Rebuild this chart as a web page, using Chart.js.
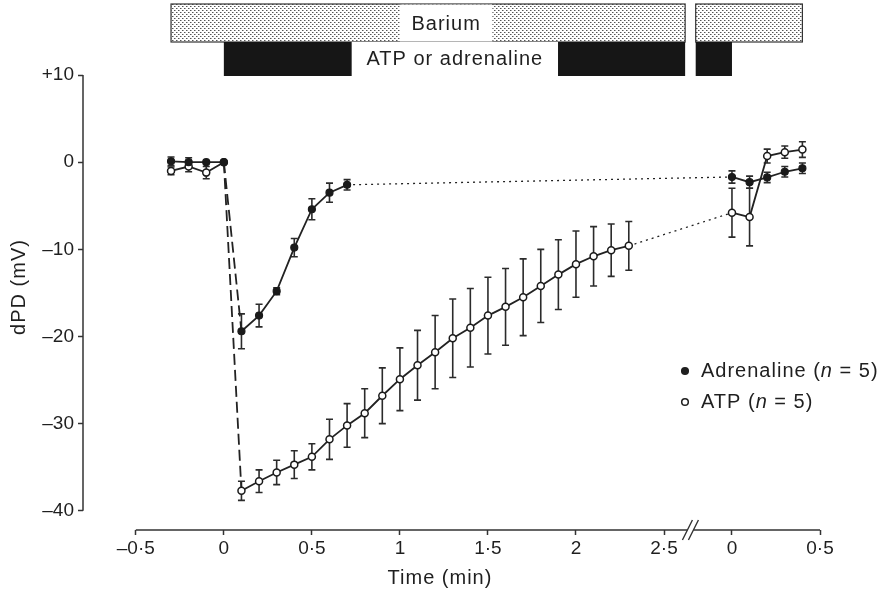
<!DOCTYPE html>
<html>
<head>
<meta charset="utf-8">
<title>dPD response to ATP and adrenaline</title>
<script src="https://cdn.jsdelivr.net/npm/chart.js@4.4.1/dist/chart.umd.min.js"></script>
<style>
  html, body { margin: 0; padding: 0; background: #fff; }
  #chart { display: block; }
</style>
</head>
<body>
<canvas id="chart" width="887" height="590"></canvas>
<script>
// Adrenaline: baseline, exposure (min)
const adrTimes = [-0.3, -0.2, -0.1, 0, 0.1, 0.2, 0.3, 0.4, 0.5, 0.6, 0.7];
const adrMean = [0.1, 0, 0, 0, -19.4, -17.6, -14.8, -9.8, -5.4, -3.5, -2.6];
const adrSem = [0.5, 0.5, 0, 0, 2.0, 1.3, 0.4, 1.05, 1.2, 1.1, 0.6];
// Adrenaline: after the break
const adrLateTimes = [0, 0.1, 0.2, 0.3, 0.4];
const adrLateMean = [-1.7, -2.3, -1.75, -1.1, -0.7];
const adrLateSem = [0.7, 0.7, 0.6, 0.6, 0.6];

// ATP: baseline, exposure (min)
const atpTimes = [-0.3, -0.2, -0.1, 0, 0.1, 0.2, 0.3, 0.4, 0.5, 0.6, 0.7, 0.8, 0.9, 1.0,
  1.1, 1.2, 1.3, 1.4, 1.5, 1.6, 1.7, 1.8, 1.9, 2.0, 2.1, 2.2, 2.3];
const atpMean = [-1.0, -0.5, -1.2, 0, -37.7, -36.6, -35.6, -34.7, -33.8, -31.8, -30.2, -28.8,
  -26.8, -24.9, -23.3, -21.8, -20.2, -19.0, -17.6, -16.6, -15.5, -14.2, -12.9, -11.7, -10.8,
  -10.1, -9.6];
const atpSem = [0.45, 0.6, 0.7, 0, 1.1, 1.3, 1.4, 1.6, 1.5, 2.3, 2.5, 2.8, 3.2, 3.6, 4.0, 4.2,
  4.5, 4.5, 4.4, 4.4, 4.4, 4.2, 4.0, 3.8, 3.4, 3.0, 2.8];
// ATP: after the break
const atpLateTimes = [0, 0.1, 0.2, 0.3, 0.4];
const atpLateMean = [-5.8, -6.3, 0.7, 1.15, 1.45];
const atpLateSem = [2.8, 3.3, 0.8, 0.7, 0.9];

const seriesNames = ["Adrenaline", "ATP"];
const seriesN = [5, 5];

// Tick labels
const xTickTimes = [-0.5, 0, 0.5, 1, 1.5, 2, 2.5, 0, 0.5];
const xTickLate = [false, false, false, false, false, false, false, true, true];
const xTickLabels = ["–0·5", "0", "0·5", "1", "1·5", "2", "2·5", "0", "0·5"];
const yTickValues = [-40, -30, -20, -10, 0, 10];
const yTickLabels = ["–40", "–30", "–20", "–10", "0", "+10"];

// Treatment bars (min)
const bariumStart = -0.3, bariumLateEnd = 0.4;
const drugStart = 0, drugLateEnd = 0;

// Broken axis: late segment "0" sits at this position of the continuous axis
const LATE_OFFSET = 2.886;
const BREAK_AT = 2.65;
const X_MIN = -0.8, X_MAX = 0.5 + LATE_OFFSET;
const Y_MIN = -42.2, Y_MAX = 10;

const FONT = "'Liberation Sans', Arial, Helvetica, sans-serif";
const INK = "#1f1f1f";

function toPoints(times, mean, sem, lateTimes, lateMean, lateSem) {
  const early = times.map((t, i) => ({ x: t, y: mean[i], e: sem[i] }));
  const late = lateTimes.map((t, i) => ({ x: t + LATE_OFFSET, y: lateMean[i], e: lateSem[i] }));
  return early.concat(late);
}

// dashed drop after t = 0, dotted bridge across the break
function segmentDash(times) {
  const dropFrom = times.indexOf(0);
  const bridgeFrom = times.length - 1;
  return {
    borderDash: ctx => {
      if (ctx.p0DataIndex === dropFrom) return [11, 5];
      if (ctx.p0DataIndex === bridgeFrom) return [2, 4];
      return [];
    },
    borderWidth: ctx => (ctx.p0DataIndex === bridgeFrom ? 1.3 : 1.8),
  };
}

// stipple pattern for the barium bar
const stippleCanvas = document.createElement("canvas");
stippleCanvas.width = 4;
stippleCanvas.height = 4;
const sctx = stippleCanvas.getContext("2d");
sctx.fillStyle = "#fff";
sctx.fillRect(0, 0, 4, 4);
sctx.fillStyle = "#555";
sctx.fillRect(0, 0, 1, 1);
sctx.fillRect(2, 2, 1, 1);
sctx.fillStyle = "#aaa";
sctx.fillRect(1, 0, 1, 1);
sctx.fillRect(3, 2, 1, 1);

const errorBars = {
  id: "errorBars",
  beforeDatasetsDraw(chart) {
    const { ctx, scales: { x, y } } = chart;
    ctx.save();
    ctx.strokeStyle = "#2b2b2b";
    ctx.lineWidth = 1.6;
    chart.data.datasets.forEach(ds => {
      ds.data.forEach(p => {
        if (!p.e) return;
        const px = x.getPixelForValue(p.x);
        const top = y.getPixelForValue(p.y + p.e);
        const bot = y.getPixelForValue(p.y - p.e);
        ctx.beginPath();
        ctx.moveTo(px, top);
        ctx.lineTo(px, bot);
        ctx.moveTo(px - 3.5, top);
        ctx.lineTo(px + 3.5, top);
        ctx.moveTo(px - 3.5, bot);
        ctx.lineTo(px + 3.5, bot);
        ctx.stroke();
      });
    });
    ctx.restore();
  },
};

function drawAxes(ctx, chart) {
  const { x, y } = chart.scales;
  const area = chart.chartArea;
  const cx = x.getPixelForValue(BREAK_AT);
  ctx.strokeStyle = "#333";
  ctx.lineWidth = 1.5;
  ctx.beginPath();
  ctx.moveTo(area.left, y.getPixelForValue(Y_MAX));
  ctx.lineTo(area.left, y.getPixelForValue(-40));
  ctx.moveTo(x.getPixelForValue(-0.5), area.bottom);
  ctx.lineTo(cx - 3, area.bottom);
  ctx.moveTo(cx + 3, area.bottom);
  ctx.lineTo(x.getPixelForValue(X_MAX), area.bottom);
  ctx.stroke();
  // "//" break mark
  ctx.lineWidth = 1.4;
  ctx.beginPath();
  [-3, 3].forEach(d => {
    ctx.moveTo(cx + d - 5, area.bottom + 10);
    ctx.lineTo(cx + d + 5, area.bottom - 10);
  });
  ctx.stroke();
}

function drawTreatmentBars(ctx, x) {
  const px = v => x.getPixelForValue(v);
  const gapL = px(BREAK_AT - 0.03), gapR = px(BREAK_AT + 0.03);
  const stipple = ctx.createPattern(stippleCanvas, "repeat");

  // Barium
  const b0 = px(bariumStart), b1 = px(bariumLateEnd + LATE_OFFSET);
  ctx.fillStyle = stipple;
  ctx.fillRect(b0, 4, gapL - b0, 38);
  ctx.fillRect(gapR, 4, b1 - gapR, 38);
  ctx.strokeStyle = "#333";
  ctx.lineWidth = 1.2;
  ctx.strokeRect(b0, 4, gapL - b0, 38);
  ctx.strokeRect(gapR, 4, b1 - gapR, 38);

  // ATP or adrenaline
  const d0 = px(drugStart), d1 = px(drugLateEnd + LATE_OFFSET);
  ctx.fillStyle = "#161616";
  ctx.fillRect(d0, 42, gapL - d0, 34);
  ctx.fillRect(gapR, 42, d1 - gapR, 34);

  // label boxes
  ctx.fillStyle = "#fff";
  ctx.fillRect(px(1.0), 4.6, px(1.525) - px(1.0), 36.8);
  ctx.fillRect(px(0.726), 42, px(1.898) - px(0.726), 34);
  ctx.fillStyle = INK;
  ctx.font = "20px " + FONT;
  ctx.letterSpacing = "1px";
  ctx.textAlign = "center";
  ctx.textBaseline = "middle";
  ctx.fillText("Barium", (px(1.0) + px(1.525)) / 2, 24);
  ctx.fillText("ATP or adrenaline", (px(0.726) + px(1.898)) / 2, 59);
}

function drawLegend(ctx) {
  const rows = [371, 402];
  ctx.font = "20px " + FONT;
  ctx.letterSpacing = "1px";
  ctx.textAlign = "left";
  ctx.textBaseline = "middle";
  seriesNames.forEach((name, i) => {
    const yy = rows[i];
    ctx.beginPath();
    ctx.arc(685, yy, 3.3, 0, Math.PI * 2);
    ctx.fillStyle = i === 0 ? INK : "#fff";
    ctx.fill();
    ctx.lineWidth = 1.5;
    ctx.strokeStyle = INK;
    ctx.stroke();
    ctx.fillStyle = INK;
    let tx = 701;
    const parts = [[name + " (", "normal"], ["n", "italic"], [" = " + seriesN[i] + ")", "normal"]];
    parts.forEach(([txt, style]) => {
      ctx.font = style + " 20px " + FONT;
      ctx.fillText(txt, tx, yy);
      tx += ctx.measureText(txt).width;
    });
  });
}

function drawTitles(ctx) {
  ctx.fillStyle = INK;
  ctx.font = "20px " + FONT;
  ctx.letterSpacing = "1px";
  ctx.textAlign = "center";
  ctx.textBaseline = "middle";
  ctx.fillText("Time (min)", 440, 578);
  ctx.save();
  ctx.translate(19, 287);
  ctx.rotate(-Math.PI / 2);
  ctx.fillText("dPD (mV)", 0, 0);
  ctx.restore();
}

const decorations = {
  id: "decorations",
  afterDraw(chart) {
    const ctx = chart.ctx;
    ctx.save();
    drawAxes(ctx, chart);
    drawTreatmentBars(ctx, chart.scales.x);
    drawLegend(ctx);
    drawTitles(ctx);
    ctx.restore();
  },
};

const tickFont = { family: FONT, size: 19 };

new Chart(document.getElementById("chart"), {
  type: "line",
  data: {
    datasets: [
      {
        label: seriesNames[0],
        data: toPoints(adrTimes, adrMean, adrSem, adrLateTimes, adrLateMean, adrLateSem),
        borderColor: "#222",
        borderWidth: 1.8,
        pointRadius: 3.5,
        pointBackgroundColor: "#1a1a1a",
        pointBorderColor: "#1a1a1a",
        pointBorderWidth: 1.2,
        segment: segmentDash(adrTimes),
      },
      {
        label: seriesNames[1],
        data: toPoints(atpTimes, atpMean, atpSem, atpLateTimes, atpLateMean, atpLateSem),
        borderColor: "#222",
        borderWidth: 1.8,
        pointRadius: 3.5,
        pointBackgroundColor: "#fff",
        pointBorderColor: "#1a1a1a",
        pointBorderWidth: 1.5,
        segment: segmentDash(atpTimes),
      },
    ],
  },
  options: {
    responsive: false,
    animation: false,
    devicePixelRatio: 1,
    layout: { padding: { top: 75, right: 67, left: 0, bottom: 0 } },
    plugins: { legend: { display: false }, tooltip: { enabled: false } },
    scales: {
      x: {
        type: "linear",
        min: X_MIN,
        max: X_MAX,
        afterBuildTicks: scale => {
          scale.ticks = xTickTimes.map((t, i) => ({ value: t + (xTickLate[i] ? LATE_OFFSET : 0) }));
        },
        afterFit: scale => { scale.height = 60; },
        ticks: {
          autoSkip: false,
          maxRotation: 0,
          padding: 2,
          color: INK,
          font: tickFont,
          callback: (value, index) => xTickLabels[index],
        },
        grid: { drawOnChartArea: false, tickLength: 5, tickColor: "#333", tickWidth: 1.5 },
        border: { display: false },
      },
      y: {
        type: "linear",
        min: Y_MIN,
        max: Y_MAX,
        afterBuildTicks: scale => {
          scale.ticks = yTickValues.map(v => ({ value: v }));
        },
        afterFit: scale => { scale.width = 83; },
        ticks: {
          padding: 4,
          color: INK,
          font: tickFont,
          callback: (value, index) => yTickLabels[index],
        },
        grid: { drawOnChartArea: false, tickLength: 5, tickColor: "#333", tickWidth: 1.5 },
        border: { display: false },
      },
    },
  },
  plugins: [errorBars, decorations],
});
</script>
</body>
</html>
